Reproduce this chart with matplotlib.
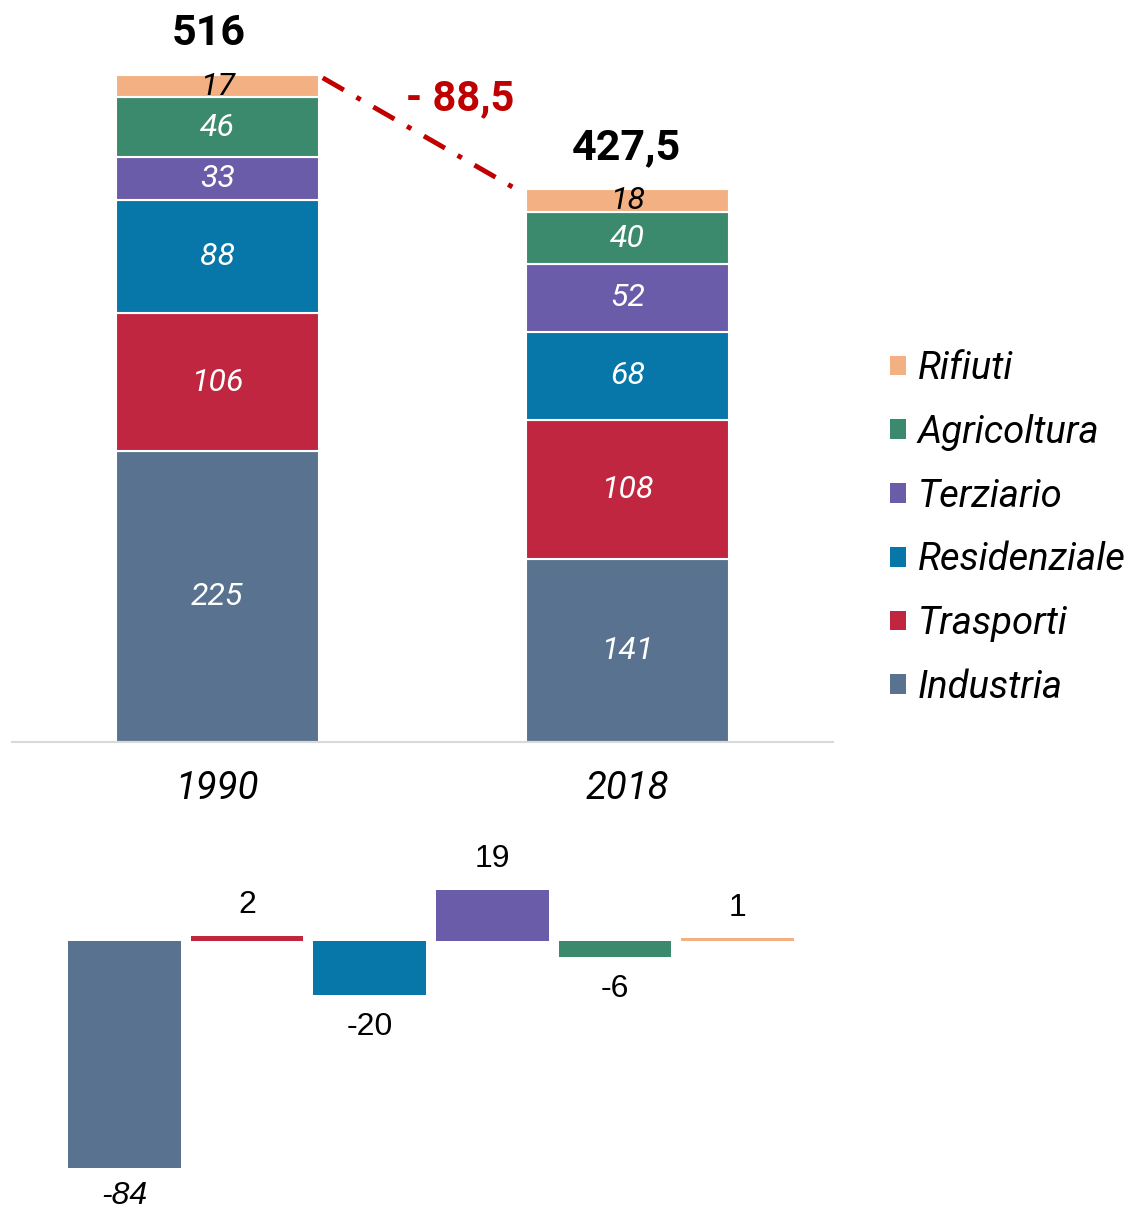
import numpy as np
import matplotlib
matplotlib.use('Agg')
import matplotlib.pyplot as plt
from matplotlib.patches import Patch

# dati
anni = ['1990', '2018']
settori = ['Industria', 'Trasporti', 'Residenziale', 'Terziario', 'Agricoltura', 'Rifiuti']
val_1990 = [225, 106, 88, 33, 46, 17]
val_2018 = [141, 108, 68, 52, 40, 18]
totali = ['516', '427,5']
diff_label = '- 88,5'
variazioni = [-84, 2, -20, 19, -6, 1]

colori = ['#58728f', '#c0263f', '#0677a8', '#6a5ca8', '#3c8a6d', '#f3b183']
col_testo = ['white', 'white', 'white', 'white', 'white', 'black']

plt.rcParams['font.family'] = ['Roboto', 'DejaVu Sans']

fig = plt.figure(figsize=(11.28, 12.11), dpi=100)

# barre impilate
ax = fig.add_axes([12 / 1128, (1211 - 742) / 1211, 821 / 1128, 725 / 1211])
w = 0.494
x = np.arange(len(anni))
valori = np.array([val_1990, val_2018])
base = np.zeros(len(anni))
for i, s in enumerate(settori):
    v = valori[:, i]
    ax.bar(x, v, w, bottom=base, color=colori[i], edgecolor='white', linewidth=1.5, label=s)
    for j in range(len(anni)):
        ax.text(x[j], base[j] + v[j] / 2, str(v[j]), ha='center', va='center',
                fontsize=23, style='italic', color=col_testo[i])
    base += v

# totali sopra le barre
dx = [-9, -1]
for j in range(len(anni)):
    ax.annotate(totali[j], (x[j], base[j]), xytext=(dx[j] * 0.72, 30), textcoords='offset points',
                ha='center', va='center', fontsize=31, fontweight='bold')

ax.plot([x[0] + w / 2 + 0.01, x[1] - w / 2 - 0.03], [base[0] - 2, base[1] + 1],
        color='#c00000', linewidth=3.5, linestyle=(0, (5, 3, 1, 3)))
ax.text(0.592, 497, diff_label, ha='center', va='center', fontsize=30,
        fontweight='bold', color='#c00000')

ax.set_xlim(-0.5, 1.5)
ax.set_ylim(0, 560)
ax.set_xticks(x)
ax.set_xticklabels(anni, fontsize=27.5, style='italic')
ax.tick_params(axis='x', length=0, pad=20)
ax.set_yticks([])
for sp in ['top', 'right', 'left']:
    ax.spines[sp].set_visible(False)
ax.spines['bottom'].set_color('#d9d9d9')
ax.spines['bottom'].set_linewidth(1.5)

handles = [Patch(facecolor=colori[i], label=settori[i]) for i in range(len(settori))][::-1]
leg = fig.legend(handles=handles, loc='center left', bbox_to_anchor=(890 / 1128, (1211 - 528) / 1211),
                 frameon=False, fontsize=27.5, handlelength=0.42, handleheight=0.42,
                 handletextpad=0.3, labelspacing=0.7, borderpad=0, borderaxespad=0)
for t in leg.get_texts():
    t.set_style('italic')

# variazioni
ax2 = fig.add_axes([63 / 1128, 0, 736 / 1128, 351 / 1211])
x2 = np.arange(len(variazioni))
ax2.bar(x2, variazioni, 0.92, color=colori)
for i, v in enumerate(variazioni):
    if v >= 0:
        ax2.annotate(str(v), (x2[i], v), xytext=(0, 22), textcoords='offset points',
                     ha='center', va='center', fontsize=23,
                     family=['Liberation Sans Narrow', 'Liberation Sans'])
    else:
        ax2.annotate(str(v), (x2[i], v), xytext=(0, -20 if i == 0 else -23), textcoords='offset points',
                     ha='center', va='center', fontsize=23,
                     style='italic' if i == 0 else 'normal',
                     family=['Liberation Sans Narrow', 'Liberation Sans'])
ax2.set_xlim(-0.5, 5.5)
ax2.set_ylim(-100, 30)
ax2.axis('off')

fig.savefig('out.png', dpi=100)
